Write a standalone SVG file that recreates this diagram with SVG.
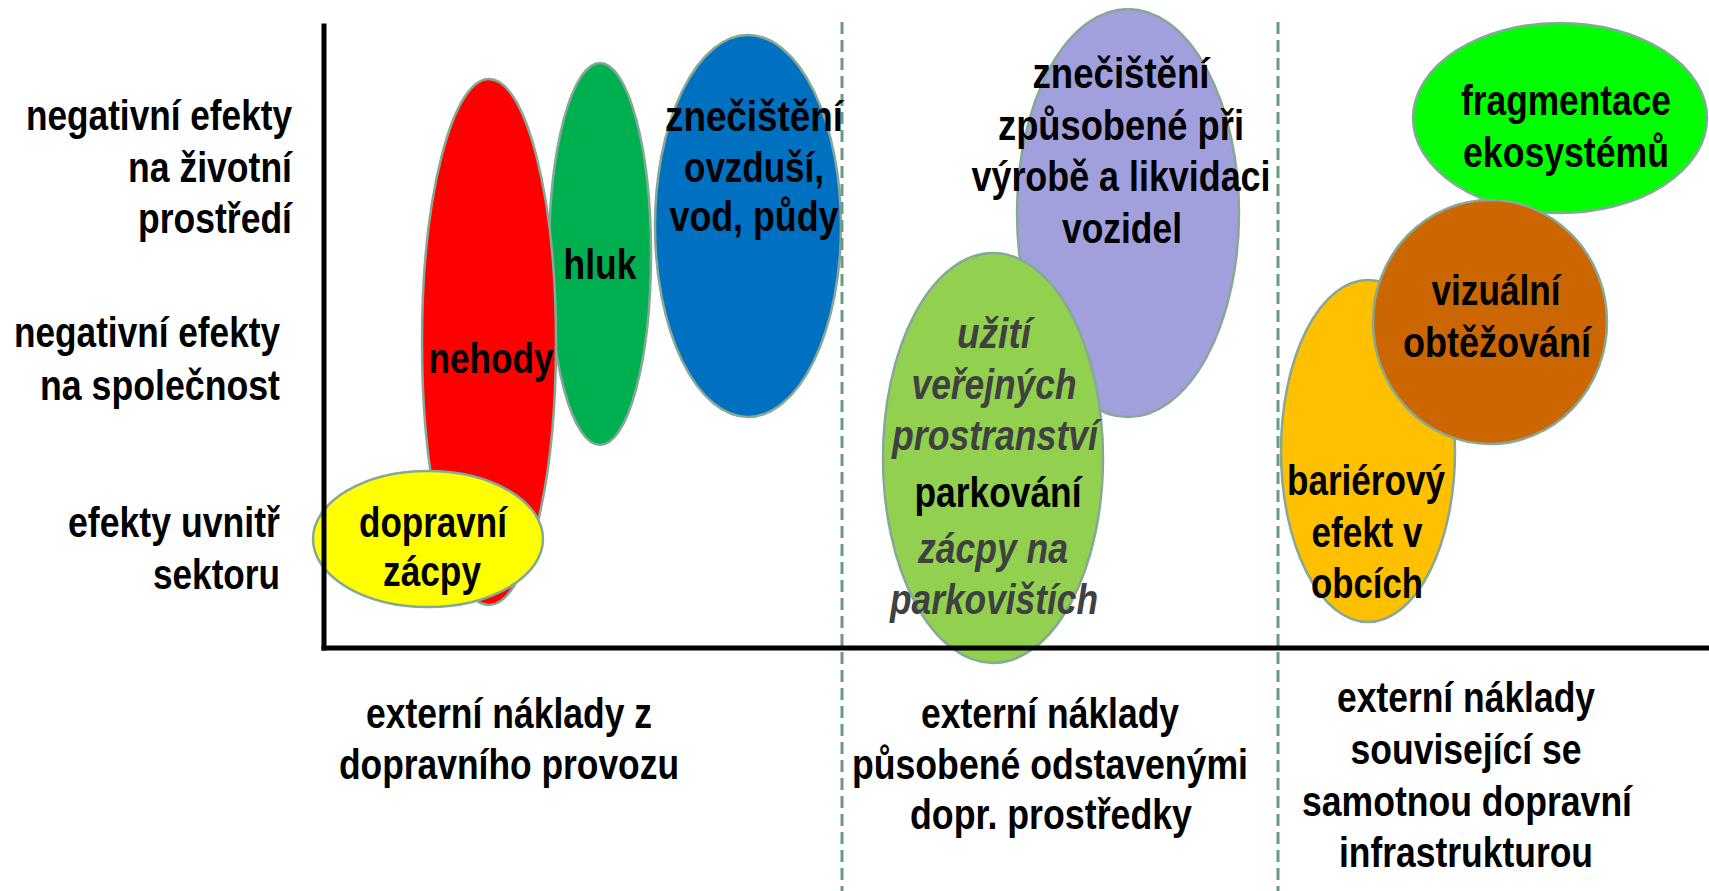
<svg xmlns="http://www.w3.org/2000/svg" width="1709" height="891" viewBox="0 0 1709 891">
<style>
text { font-family: "Liberation Sans Narrow", "Liberation Sans", Arial, sans-serif; font-weight: bold; font-size: 42px; fill: #000; text-anchor: middle; }
text.l { text-anchor: end; }
text.it { font-style: italic; fill: #404040; }
.el { stroke: #86a896; stroke-width: 2.5; }
.div { stroke: #6a9a84; stroke-width: 3; stroke-dasharray: 12 6; fill: none; }
.ax { stroke: #000; stroke-width: 5; fill: none; stroke-linecap: square; }
</style>
<rect width="1709" height="891" fill="#fff"/>

<g id="n-hluk">
<ellipse class="el" cx="600" cy="254" rx="51" ry="191" fill="#00B050"/>
</g>
<g id="n-nehody">
<ellipse class="el" cx="489" cy="342" rx="67" ry="263" fill="#FF0000"/>
</g>
<g id="n-znecisteni">
<ellipse class="el" cx="748" cy="226" rx="93" ry="191" fill="#0070C0"/>
</g>
<g id="n-zacpy">
<ellipse class="el" cx="428" cy="539" rx="115" ry="68" fill="#FFFF00"/>
</g>
<g id="n-vyroba">
<ellipse class="el" cx="1128" cy="213" rx="111" ry="204" fill="#A29FDD"/>
</g>
<g id="n-parkovani">
<ellipse class="el" cx="993" cy="458" rx="110" ry="205" fill="#92D050"/>
</g>
<g id="n-fragmentace">
<ellipse class="el" cx="1560" cy="118" rx="147" ry="95" fill="#00FF00"/>
</g>
<g id="n-barierovy">
<ellipse class="el" cx="1368" cy="451" rx="87" ry="171" fill="#FFC000"/>
</g>
<g id="n-vizualni">
<ellipse class="el" cx="1490" cy="322" rx="117" ry="122" fill="#CC6600"/>
</g>

<g id="axes">
<line class="div" x1="842" y1="22" x2="842" y2="891"/>
<line class="div" x1="1278" y1="22" x2="1278" y2="891"/>
<line class="ax" x1="324" y1="26" x2="324" y2="648"/>
<line class="ax" x1="324" y1="648" x2="1709" y2="648"/>
</g>
<g id="connectors"></g>

<g id="labels-y">
<text class="l" x="292" y="130" textLength="266" lengthAdjust="spacingAndGlyphs">negativní efekty</text>
<text class="l" x="292" y="182" textLength="164" lengthAdjust="spacingAndGlyphs">na životní</text>
<text class="l" x="292" y="233" textLength="154" lengthAdjust="spacingAndGlyphs">prostředí</text>
<text class="l" x="280" y="347" textLength="266" lengthAdjust="spacingAndGlyphs">negativní efekty</text>
<text class="l" x="280" y="400" textLength="240" lengthAdjust="spacingAndGlyphs">na společnost</text>
<text class="l" x="280" y="537" textLength="212" lengthAdjust="spacingAndGlyphs">efekty uvnitř</text>
<text class="l" x="280" y="589" textLength="127" lengthAdjust="spacingAndGlyphs">sektoru</text>
</g>

<g id="t-nehody"><text x="491" y="373" textLength="125" lengthAdjust="spacingAndGlyphs">nehody</text></g>
<g id="t-hluk"><text x="600" y="279" textLength="73" lengthAdjust="spacingAndGlyphs">hluk</text></g>
<g id="t-znecisteni">
<text x="754" y="131" textLength="178" lengthAdjust="spacingAndGlyphs">znečištění</text>
<text x="754" y="182" textLength="140" lengthAdjust="spacingAndGlyphs">ovzduší,</text>
<text x="754" y="231" textLength="169" lengthAdjust="spacingAndGlyphs">vod, půdy</text>
</g>
<g id="t-zacpy">
<text x="433" y="537" textLength="148" lengthAdjust="spacingAndGlyphs">dopravní</text>
<text x="432" y="586" textLength="98" lengthAdjust="spacingAndGlyphs">zácpy</text>
</g>
<g id="t-vyroba">
<text x="1121" y="88" textLength="177" lengthAdjust="spacingAndGlyphs">znečištění</text>
<text x="1121" y="140" textLength="246" lengthAdjust="spacingAndGlyphs">způsobené při</text>
<text x="1121" y="191" textLength="299" lengthAdjust="spacingAndGlyphs">výrobě a likvidaci</text>
<text x="1122" y="243" textLength="120" lengthAdjust="spacingAndGlyphs">vozidel</text>
</g>
<g id="t-parkovani">
<text class="it" x="994" y="348" textLength="74" lengthAdjust="spacingAndGlyphs">užití</text>
<text class="it" x="994" y="399" textLength="165" lengthAdjust="spacingAndGlyphs">veřejných</text>
<text class="it" x="995" y="450" textLength="206" lengthAdjust="spacingAndGlyphs">prostranství</text>
<text x="998" y="507" textLength="167" lengthAdjust="spacingAndGlyphs">parkování</text>
<text class="it" x="993" y="563" textLength="150" lengthAdjust="spacingAndGlyphs">zácpy na</text>
<text class="it" x="994" y="614" textLength="208" lengthAdjust="spacingAndGlyphs">parkovištích</text>
</g>
<g id="t-fragmentace">
<text x="1566" y="115" textLength="210" lengthAdjust="spacingAndGlyphs">fragmentace</text>
<text x="1566" y="167" textLength="206" lengthAdjust="spacingAndGlyphs">ekosystémů</text>
</g>
<g id="t-vizualni">
<text x="1496" y="305" textLength="129" lengthAdjust="spacingAndGlyphs">vizuální</text>
<text x="1497" y="357" textLength="188" lengthAdjust="spacingAndGlyphs">obtěžování</text>
</g>
<g id="t-barierovy">
<text x="1366" y="495" textLength="158" lengthAdjust="spacingAndGlyphs">bariérový</text>
<text x="1367" y="547" textLength="111" lengthAdjust="spacingAndGlyphs">efekt v</text>
<text x="1367" y="598" textLength="112" lengthAdjust="spacingAndGlyphs">obcích</text>
</g>

<g id="labels-x">
<text x="509" y="728" textLength="286" lengthAdjust="spacingAndGlyphs">externí náklady z</text>
<text x="509" y="779" textLength="340" lengthAdjust="spacingAndGlyphs">dopravního provozu</text>
<text x="1050" y="728" textLength="258" lengthAdjust="spacingAndGlyphs">externí náklady</text>
<text x="1050" y="779" textLength="396" lengthAdjust="spacingAndGlyphs">působené odstavenými</text>
<text x="1051" y="829" textLength="282" lengthAdjust="spacingAndGlyphs">dopr. prostředky</text>
<text x="1466" y="712" textLength="258" lengthAdjust="spacingAndGlyphs">externí náklady</text>
<text x="1466" y="764" textLength="231" lengthAdjust="spacingAndGlyphs">související se</text>
<text x="1467" y="816" textLength="330" lengthAdjust="spacingAndGlyphs">samotnou dopravní</text>
<text x="1466" y="867" textLength="254" lengthAdjust="spacingAndGlyphs">infrastrukturou</text>
</g>
</svg>
